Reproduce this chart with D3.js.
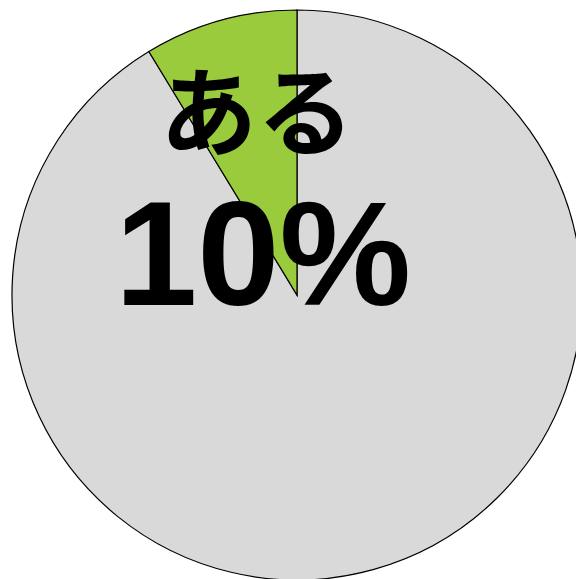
<!DOCTYPE html>
<html>
<head>
<meta charset="utf-8">
<script src="https://cdn.jsdelivr.net/npm/d3@7"></script>
<style>
  body { margin: 0; background: #fff; }
  svg { display: block; }
</style>
</head>
<body>
<div class="Pie"></div>
<script>
// slice data (clockwise from 12 o'clock)
var categories = ["その他", "ある"];
var values = [91.3, 8.7];
var colors = ["#d9d9d9", "#9acb3c"];
var labelTop = "ある";
var labelValue = "10%";

var width = 576;
var height = 579;
var cx = 297, cy = 295, radius = 285;

var svg = d3.select(".Pie")
            .append("svg")
            .attr("width", width)
            .attr("height", height);

var pie = d3.pie().sort(null).value(function(d){ return d; });
var arc = d3.arc().innerRadius(0).outerRadius(radius);

var g = svg.append("g")
           .attr("transform", "translate(" + cx + "," + cy + ")");

g.selectAll("path")
 .data(pie(values))
 .enter().append("path")
 .attr("d", arc)
 .attr("fill", function(d, i){ return colors[i]; })
 .attr("stroke", "#000")
 .attr("stroke-width", 1.2);

// labels
svg.append("text")
   .attr("x", 257)
   .attr("y", 148)
   .attr("text-anchor", "middle")
   .attr("font-family", "'Noto Sans CJK JP', sans-serif")
   .attr("font-weight", "bold")
   .attr("font-size", 97)
   .attr("fill", "#000")
   .text(labelTop);

svg.append("text")
   .attr("x", 263)
   .attr("y", 305)
   .attr("text-anchor", "middle")
   .attr("font-family", "'Liberation Sans', Arial, sans-serif")
   .attr("font-weight", "bold")
   .attr("font-size", 148)
   .attr("fill", "#000")
   .text(labelValue);
</script>
</body>
</html>
